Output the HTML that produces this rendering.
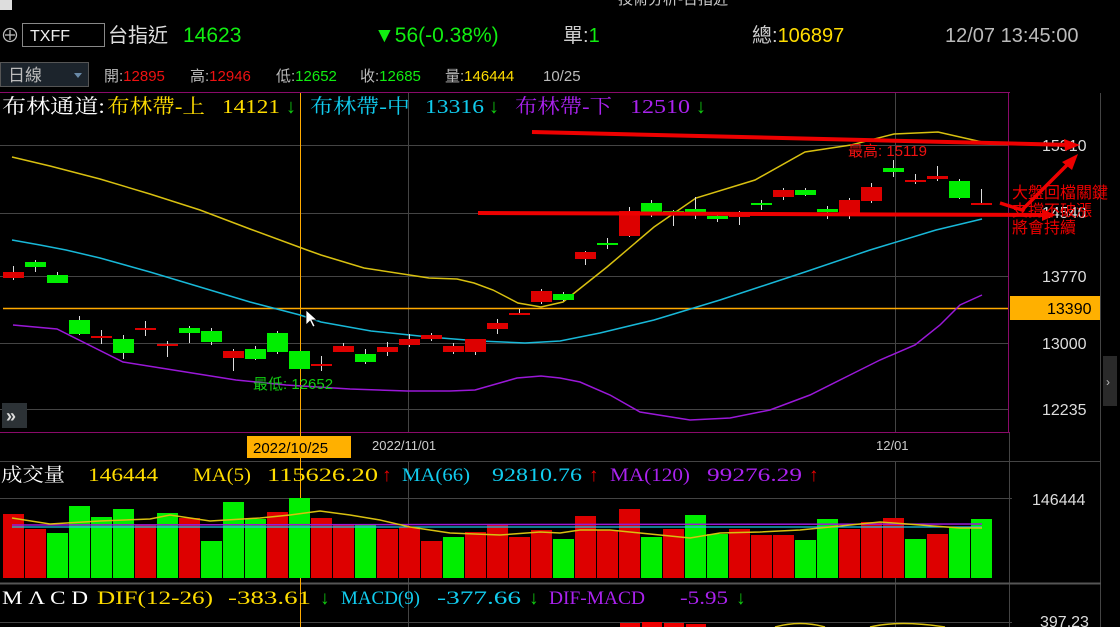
<!DOCTYPE html>
<html><head><meta charset="utf-8"><style>
html,body{margin:0;padding:0;background:#000;width:1120px;height:627px;overflow:hidden}
svg{display:block}
.s{font-family:"Liberation Sans","Noto Sans CJK TC",sans-serif}
.r{font-family:"Liberation Serif","Noto Serif CJK SC",serif}
</style></head><body>
<svg id="c" width="1120" height="627" xmlns="http://www.w3.org/2000/svg">
<rect width="1120" height="627" fill="#000"/>
<rect x="0" y="0" width="12" height="10" fill="#ddd"/>
<text x="618" y="4" class="s" font-size="15" fill="#ccc">技術分析-台指近</text>
<circle cx="10" cy="35" r="6.5" fill="none" stroke="#bbb" stroke-width="1.3"/>
<line x1="5" y1="35" x2="15" y2="35" stroke="#bbb" stroke-width="1.3"/><line x1="10" y1="30" x2="10" y2="40" stroke="#bbb" stroke-width="1.3"/>
<rect x="22.5" y="23.5" width="82" height="23" fill="#000" stroke="#888" stroke-width="1"/>
<text x="30" y="41" class="s" font-size="16" fill="#eee">TXFF</text>
<text x="108" y="42" class="s" font-size="20" fill="#ddd">台指近</text>
<text x="183" y="42" class="s" font-size="21" fill="#11ee11">14623</text>
<text x="374" y="42" class="s" font-size="21" fill="#11ee11">▼56(-0.38%)</text>
<text x="563" y="42" class="s" font-size="20" fill="#ccc">單:<tspan fill="#11ee11">1</tspan></text>
<text x="752" y="42" class="s" font-size="20" fill="#ccc">總:<tspan fill="#ffdd00">106897</tspan></text>
<text x="945" y="42" class="s" font-size="20" fill="#bbb">12/07 13:45:00</text>
<rect x="0.5" y="62.5" width="88" height="24" fill="#1c242c" stroke="#555"/>
<text x="8" y="81" class="s" font-size="17" fill="#bbb">日線</text>
<path d="M74 73 L82 73 L78 78 Z" fill="#6a8aa8"/>
<text x="104" y="81" class="s" font-size="15" fill="#bbb">開:<tspan fill="#ee1111">12895</tspan></text>
<text x="190" y="81" class="s" font-size="15" fill="#bbb">高:<tspan fill="#ee1111">12946</tspan></text>
<text x="276" y="81" class="s" font-size="15" fill="#bbb">低:<tspan fill="#11ee11">12652</tspan></text>
<text x="360" y="81" class="s" font-size="15" fill="#bbb">收:<tspan fill="#11ee11">12685</tspan></text>
<text x="445" y="81" class="s" font-size="15" fill="#bbb">量:<tspan fill="#ffdd00">146444</tspan></text>
<text x="543" y="81" class="s" font-size="15" fill="#bbb">10/25</text>
<line x1="0" y1="92.5" x2="1010" y2="92.5" stroke="#8a0a6a"/>
<g class="r" font-size="20">
<text x="2" y="113" fill="#fff" textLength="103" lengthAdjust="spacingAndGlyphs">布林通道:</text>
<text x="107" y="113" fill="#ffdd00" textLength="98" lengthAdjust="spacingAndGlyphs">布林帶-上</text>
<text x="222" y="113" fill="#ffdd00" textLength="58" lengthAdjust="spacingAndGlyphs">14121</text>
<text x="286" y="113" fill="#11cc11">↓</text>
<text x="310" y="113" fill="#11ccee" textLength="100" lengthAdjust="spacingAndGlyphs">布林帶-中</text>
<text x="425" y="113" fill="#11ccee" textLength="59" lengthAdjust="spacingAndGlyphs">13316</text>
<text x="489" y="113" fill="#11cc11">↓</text>
<text x="515" y="113" fill="#aa22ee" textLength="97" lengthAdjust="spacingAndGlyphs">布林帶-下</text>
<text x="630" y="113" fill="#aa22ee" textLength="60" lengthAdjust="spacingAndGlyphs">12510</text>
<text x="696" y="113" fill="#11cc11">↓</text>
</g>
<g stroke="#444" stroke-width="1">
<line x1="0" y1="145.5" x2="1008" y2="145.5"/><line x1="0" y1="213.5" x2="1008" y2="213.5"/>
<line x1="0" y1="276.5" x2="1008" y2="276.5"/><line x1="0" y1="343.5" x2="1008" y2="343.5"/>
<line x1="0" y1="409.5" x2="1008" y2="409.5"/>
<line x1="408.5" y1="93" x2="408.5" y2="432"/><line x1="895.5" y1="93" x2="895.5" y2="432"/>
<line x1="408.5" y1="461" x2="408.5" y2="627"/><line x1="895.5" y1="461" x2="895.5" y2="627"/>
<line x1="0" y1="498.5" x2="1012" y2="498.5"/><line x1="0" y1="622.5" x2="1012" y2="622.5"/>
<line x1="0" y1="461.5" x2="1101" y2="461.5"/>
<line x1="1009.5" y1="461" x2="1009.5" y2="627"/><line x1="1100.5" y1="461" x2="1100.5" y2="627"/>
<line x1="1009.5" y1="432" x2="1009.5" y2="461"/><line x1="1100.5" y1="93" x2="1100.5" y2="461"/>
</g>
<line x1="0" y1="583.5" x2="1101" y2="583.5" stroke="#555" stroke-width="2"/>
<line x1="1008.5" y1="93" x2="1008.5" y2="432" stroke="#8a0a6a"/>
<line x1="0" y1="432.5" x2="1010" y2="432.5" stroke="#8a0a6a"/>
<line x1="300.5" y1="93" x2="300.5" y2="627" stroke="#ffaa00"/>
<line x1="3" y1="308.5" x2="1008" y2="308.5" stroke="#ffaa00" stroke-width="1.5"/>
<polyline fill="none" stroke="#d8c010" stroke-width="1.5" points="12,157 50,166 100,179 150,194 200,210 250,229 307,250 321,255 364,268 429,278 457,279 474,283 493,290 518,303 541,307 563,302 607,267 654,227 696,198 755,180 805,152 851,145 894,134 938,132 982,142"/>
<polyline fill="none" stroke="#18b8d8" stroke-width="1.5" points="12,240 40,245 66,250 100,258 150,272 200,287 250,302 300,315 321,322 371,331 429,337 479,341 525,343 560,341 600,333 654,320 720,300 805,272 870,250 936,230 982,219"/>
<polyline fill="none" stroke="#9a18d8" stroke-width="1.5" points="13,325 57,329 123,362 167,369 236,380 286,385 350,389 407,391 450,391 475,390 517,378 541,376 560,378 580,382 610,395 640,412 690,420 730,418 770,410 810,395 850,375 880,360 915,345 940,325 960,305 982,295"/>
<g id="candles"></g>
<g id="vols"></g>
<polyline fill="none" stroke="#9a18d8" stroke-width="1.5" points="12,525 982,524"/>
<polyline fill="none" stroke="#18c8e8" stroke-width="1.3" points="12,527 982,527"/>
<polyline fill="none" stroke="#d8c010" stroke-width="1.5" points="12,518 50,524 100,521 150,519 170,515 210,521 260,518 290,515 320,511 350,515 380,520 410,527 450,533 500,535 540,532 560,533 580,530 610,530 640,533 660,535 690,538 720,533 760,532 800,530 880,522 920,525 960,528 982,528"/>
<rect x="620" y="623" width="20" height="4" fill="#ee0000"/><rect x="642" y="622" width="20" height="5" fill="#ee0000"/><rect x="664" y="623" width="20" height="4" fill="#ee0000"/><rect x="686" y="624" width="20" height="3" fill="#ee0000"/>
<path d="M775 627 Q800 620 825 627 M870 627 Q900 620 945 627" stroke="#d8c010" stroke-width="1.5" fill="none"/>
<text x="253" y="389" class="s" font-size="15" fill="#11cc11">最低: 12652</text>
<text x="848" y="156" class="s" font-size="15" fill="#ee1111">最高: 15119</text>
<g class="s" font-size="16" fill="#ddd">
<text x="1042" y="151">15310</text><text x="1042" y="218">14540</text><text x="1042" y="282">13770</text>
<text x="1042" y="349">13000</text><text x="1042" y="415">12235</text>
<text x="1032" y="505">146444</text><text x="1040" y="627">397.23</text>
</g>
<rect x="1010" y="296" width="90" height="24" fill="#ffb000"/>
<text x="1047" y="314" class="s" font-size="16" fill="#000">13390</text>
<line x1="532" y1="132" x2="1072" y2="145" stroke="#ee0000" stroke-width="4"/>
<path d="M1080 145 L1064 139 L1065 151 Z" fill="#ee0000"/>
<line x1="478" y1="213" x2="1048" y2="215" stroke="#ee0000" stroke-width="4"/>
<path d="M1056 215 L1042 209 L1042 221 Z" fill="#ee0000"/>
<polyline points="1000,203 1022,210 1070,162" fill="none" stroke="#ee0000" stroke-width="3.5"/>
<path d="M1078 154 L1062 162 L1072 170 Z" fill="#ee0000"/>
<g class="s" font-size="16" fill="#ee0000"><text x="1012" y="198">大盤回檔關鍵</text><text x="1012" y="216">支撐不破漲</text><text x="1012" y="233">將會持續</text></g>
<rect x="247" y="436" width="104" height="22" fill="#ffb000"/>
<text x="253" y="453" class="s" font-size="15" fill="#000">2022/10/25</text>
<text x="372" y="450" class="s" font-size="13" fill="#ccc">2022/11/01</text>
<text x="876" y="450" class="s" font-size="13" fill="#ccc">12/01</text>
<rect x="2" y="403" width="25" height="25" fill="#2c3236"/>
<text x="6" y="422" class="s" font-size="18" fill="#ddd" font-weight="bold">»</text>
<rect x="1103" y="356" width="14" height="50" fill="#2a2a2a"/>
<text x="1106" y="386" class="s" font-size="12" fill="#bbb">›</text>
<g class="r" font-size="19">
<text x="1" y="481" fill="#fff" textLength="64" lengthAdjust="spacingAndGlyphs">成交量</text>
<text x="88" y="481" fill="#ffdd00" textLength="70" lengthAdjust="spacingAndGlyphs">146444</text>
<text x="193" y="481" fill="#ffdd00" textLength="58" lengthAdjust="spacingAndGlyphs">MA(5)</text>
<text x="267" y="481" fill="#ffdd00" textLength="111" lengthAdjust="spacingAndGlyphs">115626.20</text>
<text x="382" y="481" fill="#ee0000">↑</text>
<text x="402" y="481" fill="#11ccee" textLength="68" lengthAdjust="spacingAndGlyphs">MA(66)</text>
<text x="492" y="481" fill="#11ccee" textLength="90" lengthAdjust="spacingAndGlyphs">92810.76</text>
<text x="589" y="481" fill="#ee0000">↑</text>
<text x="610" y="481" fill="#aa22ee" textLength="80" lengthAdjust="spacingAndGlyphs">MA(120)</text>
<text x="707" y="481" fill="#aa22ee" textLength="95" lengthAdjust="spacingAndGlyphs">99276.29</text>
<text x="809" y="481" fill="#ee0000">↑</text>
<text x="2" y="604" fill="#fff" textLength="86" lengthAdjust="spacingAndGlyphs">M Λ C D</text>
<text x="97" y="604" fill="#ffdd00" textLength="116" lengthAdjust="spacingAndGlyphs">DIF(12-26)</text>
<text x="228" y="604" fill="#ffdd00" textLength="83" lengthAdjust="spacingAndGlyphs">-383.61</text>
<text x="320" y="604" fill="#11cc11">↓</text>
<text x="341" y="604" fill="#11ccee" textLength="79" lengthAdjust="spacingAndGlyphs">MACD(9)</text>
<text x="437" y="604" fill="#11ccee" textLength="84" lengthAdjust="spacingAndGlyphs">-377.66</text>
<text x="529" y="604" fill="#11cc11">↓</text>
<text x="549" y="604" fill="#aa22ee" textLength="96" lengthAdjust="spacingAndGlyphs">DIF-MACD</text>
<text x="680" y="604" fill="#aa22ee" textLength="48" lengthAdjust="spacingAndGlyphs">-5.95</text>
<text x="736" y="604" fill="#11cc11">↓</text>
</g>
<path d="M306 310 L306 325 L310 321 L313 327 L315 326 L312 320 L317 320 Z" fill="#fff" stroke="#000" stroke-width="0.8"/>
</svg>
<script>
var NS="http://www.w3.org/2000/svg";
function el(p,t,a){var e=document.createElementNS(NS,t);for(var k in a)e.setAttribute(k,a[k]);p.appendChild(e);return e;}
var C=[["r",272,278,266,280],["g",262,267,260,272],["g",275,283,272,283],["g",320,334,316,335],["r",336,338,330,344],
["g",339,353,335,359],["r",328,329,321,336],["r",344,345,341,357],["g",328,333,326,343],["g",331,342,328,345],
["r",351,358,349,371],["g",349,359,346,360],["g",333,352,331,354],["g",351,369,351,369],["r",364,366,356,371],
["r",346,352,343,352],["g",354,362,349,364],["r",347,352,342,356],["r",339,345,334,347],["r",335,339,333,341],
["r",346,352,343,354],["r",339,352,339,355],["r",323,329,319,334],["r",313,315,309,315],["r",291,302,289,304],
["g",294,300,292,301],["r",252,259,251,265],["g",243,245,238,249],["r",211,236,207,237],["g",203,212,200,217],
["g",211,213,210,226],["g",209,212,197,219],["g",216,219,212,222],["r",214,217,211,225],["g",203,205,200,210],
["r",190,197,188,200],["g",190,195,188,196],["g",209,212,206,219],["r",200,213,198,219],["r",187,201,183,203],
["g",168,172,160,177],["r",180,182,174,184],["r",176,179,166,181],["g",181,198,179,199],["r",203,204,189,204]];
var g=document.getElementById("candles");
C.forEach(function(c,i){var x=3+22*i,cx=x+10.5;
el(g,"line",{x1:cx,y1:c[3],x2:cx,y2:c[4],stroke:"#ddd","stroke-width":1});
el(g,"rect",{x:x,y:c[1],width:21,height:Math.max(2,c[2]-c[1]),fill:c[0]=="r"?"#dd0000":"#00ee00"});});
var V=[["r",514],["r",529],["g",533],["g",506],["g",517],["g",509],["r",525],["g",513],["r",518],["g",541],
["g",502],["g",519],["r",512],["g",498],["r",518],["r",524],["g",524],["r",529],["r",527],["r",541],
["g",537],["r",532],["r",525],["r",537],["r",530],["g",539],["r",516],["r",530],["r",509],["g",537],
["r",529],["g",515],["g",534],["r",529],["r",535],["r",535],["g",540],["g",519],["r",529],["r",522],
["r",518],["g",539],["r",534],["g",527],["g",519]];
var vg=document.getElementById("vols");
V.forEach(function(v,i){el(vg,"rect",{x:3+22*i,y:v[1],width:21,height:578-v[1],fill:v[0]=="r"?"#dd0000":"#00ee00"});});
</script>
</body></html>
